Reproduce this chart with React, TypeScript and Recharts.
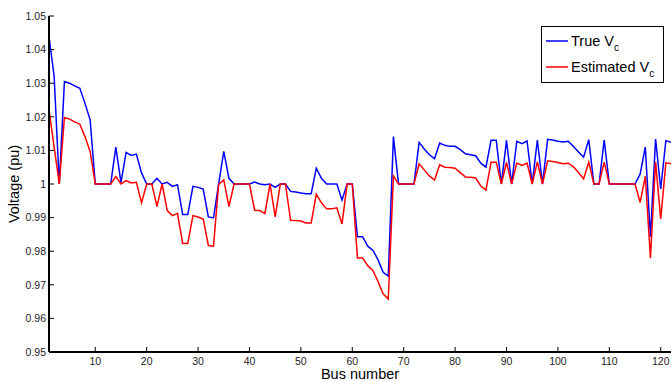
import { LineChart, Line, XAxis, YAxis, Legend } from 'recharts';

const FONT = '"Liberation Sans", Arial, Helvetica, sans-serif';

// bus numbers 1..122
const buses = [
  1, 2, 3, 4, 5, 6, 7, 8, 9, 10, 11, 12, 13, 14, 15, 16, 17, 18, 19, 20,
  21, 22, 23, 24, 25, 26, 27, 28, 29, 30, 31, 32, 33, 34, 35, 36, 37, 38, 39, 40,
  41, 42, 43, 44, 45, 46, 47, 48, 49, 50, 51, 52, 53, 54, 55, 56, 57, 58, 59, 60,
  61, 62, 63, 64, 65, 66, 67, 68, 69, 70, 71, 72, 73, 74, 75, 76, 77, 78, 79, 80,
  81, 82, 83, 84, 85, 86, 87, 88, 89, 90, 91, 92, 93, 94, 95, 96, 97, 98, 99, 100,
  101, 102, 103, 104, 105, 106, 107, 108, 109, 110, 111, 112, 113, 114, 115, 116, 117, 118, 119, 120,
  121, 122,
];

const trueVc = [
  1.0439, 1.032, 1.0, 1.0305, 1.03, 1.0292, 1.0285, 1.024, 1.0191, 1.0,
  1.0, 1.0, 1.0, 1.011, 1.0004, 1.0094, 1.0085, 1.0089, 1.0033, 1.0,
  1.0, 1.0017, 1.0, 1.0005, 0.9993, 0.9998, 0.9909, 0.9909, 0.9993, 0.999,
  0.9985, 0.9902, 0.9899, 1.0, 1.0097, 1.0017, 1.0, 1.0, 1.0, 1.0,
  1.0006, 1.0, 0.9998, 1.0, 0.999, 1.0, 1.0, 0.9978, 0.9976, 0.9973,
  0.9971, 0.9971, 1.0047, 1.0017, 1.0, 1.0, 1.0, 0.9952, 1.0, 1.0,
  0.9843, 0.9843, 0.9815, 0.9803, 0.9775, 0.9737, 0.9726, 1.0141, 1.0, 1.0,
  1.0, 1.0, 1.0124, 1.0104, 1.0087, 1.0075, 1.0122, 1.0115, 1.0112, 1.0112,
  1.0102, 1.009, 1.0087, 1.0084, 1.0062, 1.005, 1.013, 1.013, 1.0, 1.013,
  1.0, 1.0127, 1.012, 1.0128, 1.0, 1.0131, 1.0, 1.0133, 1.0131, 1.0127,
  1.0125, 1.0127, 1.0112, 1.0095, 1.008, 1.0132, 1.0, 1.0, 1.0131, 1.0,
  1.0, 1.0, 1.0, 1.0, 1.0, 1.003, 1.011, 0.9843, 1.0134, 0.9985,
  1.0129, 1.0124,
];

const estimatedVc = [
  1.0221, 1.011, 1.0, 1.0198, 1.0193, 1.0185, 1.0178, 1.0141, 1.0097, 1.0,
  1.0, 1.0, 1.0, 1.0022, 1.0, 1.001, 1.0003, 1.0005, 0.9944, 1.0,
  1.0, 0.9933, 1.0, 0.9921, 0.9906, 0.9912, 0.9823, 0.9823, 0.9906, 0.9902,
  0.9896, 0.9817, 0.9815, 0.9999, 1.0012, 0.9933, 1.0, 1.0, 1.0, 1.0,
  0.9922, 0.9921, 0.9912, 1.0, 0.9902, 1.0, 1.0, 0.9892, 0.9891, 0.989,
  0.9884, 0.9884, 0.997, 0.9944, 0.9926, 0.9926, 0.9929, 0.9881, 1.0, 1.0,
  0.978, 0.978, 0.9757, 0.9743, 0.971, 0.9673, 0.9658, 1.0024, 1.0, 1.0,
  1.0, 1.0, 1.006, 1.0042, 1.0024, 1.0012, 1.0057, 1.005, 1.0049, 1.0047,
  1.0034, 1.0021, 1.002, 1.0018, 0.9994, 0.9982, 1.0065, 1.0065, 1.0, 1.0064,
  1.0, 1.0062, 1.0055, 1.0062, 1.0, 1.0066, 1.0, 1.0069, 1.0067, 1.0064,
  1.006, 1.0062, 1.0052, 1.0034, 1.0015, 1.0065, 1.0, 1.0, 1.0065, 1.0,
  1.0, 1.0, 1.0, 1.0, 1.0, 0.9945, 1.0023, 0.978, 1.0066, 0.9896,
  1.0063, 1.006,
];

const seriesNames = ['True V', 'Estimated V'];
const xTicks = [10, 20, 30, 40, 50, 60, 70, 80, 90, 100, 110, 120];
const yTicks = [0.95, 0.96, 0.97, 0.98, 0.99, 1.0, 1.01, 1.02, 1.03, 1.04, 1.05];

const data = buses.map((bus, i) => ({ bus, trueVc: trueVc[i], estimatedVc: estimatedVc[i] }));

const TICK_LEN = 5;
const fmtY = (v: number) => `${+v.toFixed(2)}`;

const BottomTick = (props: any) => {
  const { x, y, payload } = props;
  return (
    <g>
      <line x1={x} x2={x} y1={y} y2={y - TICK_LEN} stroke="#000" strokeWidth={1} />
      <text x={x} y={y + 13} textAnchor="middle" fontSize={10.5} fontFamily={FONT} fill="#222">
        {payload.value}
      </text>
    </g>
  );
};

const TopTick = (props: any) => {
  const { x, y } = props;
  return <line x1={x} x2={x} y1={y} y2={y + TICK_LEN} stroke="#000" strokeWidth={1} />;
};

const LeftTick = (props: any) => {
  const { x, y, payload } = props;
  return (
    <g>
      <line x1={x} x2={x + TICK_LEN} y1={y} y2={y} stroke="#000" strokeWidth={1} />
      <text x={x - 3} y={y} dy="0.36em" textAnchor="end" fontSize={10.5} fontFamily={FONT} fill="#222">
        {fmtY(payload.value)}
      </text>
    </g>
  );
};

const RightTick = (props: any) => {
  const { x, y } = props;
  return <line x1={x} x2={x - TICK_LEN} y1={y} y2={y} stroke="#000" strokeWidth={1} />;
};

const LegendBox = (props: any) => {
  // keep the plotting order (legend sorts by name otherwise)
  const items = [...(props.payload || [])].sort(
    (a: any, b: any) => seriesNames.indexOf(a.value) - seriesNames.indexOf(b.value)
  );
  return (
    <svg width={123} height={57} style={{ display: 'block' }}>
      <rect x={0.5} y={0.5} width={122} height={56} fill="#fff" stroke="#000" strokeWidth={1} />
      {items.map((entry: any, i: number) => {
        const cy = 15 + i * 26;
        return (
          <g key={entry.value}>
            <line x1={5} x2={27} y1={cy} y2={cy} stroke={entry.color} strokeWidth={1.5} />
            <text x={30} y={cy + 5} fontSize={14.5} fontFamily={FONT} fill="#000">
              {entry.value}
              <tspan fontSize={10} dy={5}>c</tspan>
            </text>
          </g>
        );
      })}
    </svg>
  );
};

export default function App() {
  return (
    <div style={{ position: 'absolute', left: 0, top: 0, width: 671, height: 381, background: '#fff', overflow: 'hidden' }}>
      <LineChart width={671} height={381} data={data} margin={{ top: 16, right: 0, bottom: 0, left: 0 }}>
        <XAxis
          dataKey="bus"
          type="number"
          domain={[1, 122]}
          ticks={xTicks}
          interval={0}
          height={29}
          tickSize={0}
          tickMargin={0}
          tickLine={false}
          tick={<BottomTick />}
          axisLine={{ stroke: '#000', strokeWidth: 2 }}
          allowDataOverflow
          label={{
            content: () => (
              <text x={360} y={379} textAnchor="middle" fontSize={14.5} fontFamily={FONT} fill="#000">
                Bus number
              </text>
            ),
          }}
        />
        <XAxis
          xAxisId="top"
          orientation="top"
          dataKey="bus"
          type="number"
          domain={[1, 122]}
          ticks={xTicks}
          interval={0}
          height={0}
          tickSize={0}
          tickMargin={0}
          tickLine={false}
          tick={<TopTick />}
          axisLine={{ stroke: '#000', strokeWidth: 1.5 }}
          allowDataOverflow
        />
        <YAxis
          type="number"
          domain={[0.95, 1.05]}
          ticks={yTicks}
          interval={0}
          width={49}
          tickSize={0}
          tickMargin={0}
          tickLine={false}
          tick={<LeftTick />}
          axisLine={{ stroke: '#000', strokeWidth: 2 }}
          allowDataOverflow
          label={{
            content: () => (
              <text
                x={19}
                y={184}
                transform="rotate(-90 19 184)"
                textAnchor="middle"
                fontSize={14.5}
                fontFamily={FONT}
                fill="#000"
              >
                Voltage (pu)
              </text>
            ),
          }}
        />
        <YAxis
          yAxisId="right"
          orientation="right"
          type="number"
          domain={[0.95, 1.05]}
          ticks={yTicks}
          interval={0}
          width={0}
          tickSize={0}
          tickMargin={0}
          tickLine={false}
          tick={<RightTick />}
          axisLine={false}
          allowDataOverflow
        />
        <Line
          dataKey="trueVc"
          name={seriesNames[0]}
          stroke="#0000ff"
          strokeWidth={1.5}
          dot={false}
          activeDot={false}
          isAnimationActive={false}
        />
        <Line
          dataKey="estimatedVc"
          name={seriesNames[1]}
          stroke="#ff0000"
          strokeWidth={1.5}
          dot={false}
          activeDot={false}
          isAnimationActive={false}
        />
        <Legend
          layout="horizontal"
          verticalAlign="middle"
          align="center"
          content={<LegendBox />}
          wrapperStyle={{ position: 'absolute', left: 541, top: 26, width: 123, height: 57 }}
        />
      </LineChart>
    </div>
  );
}
